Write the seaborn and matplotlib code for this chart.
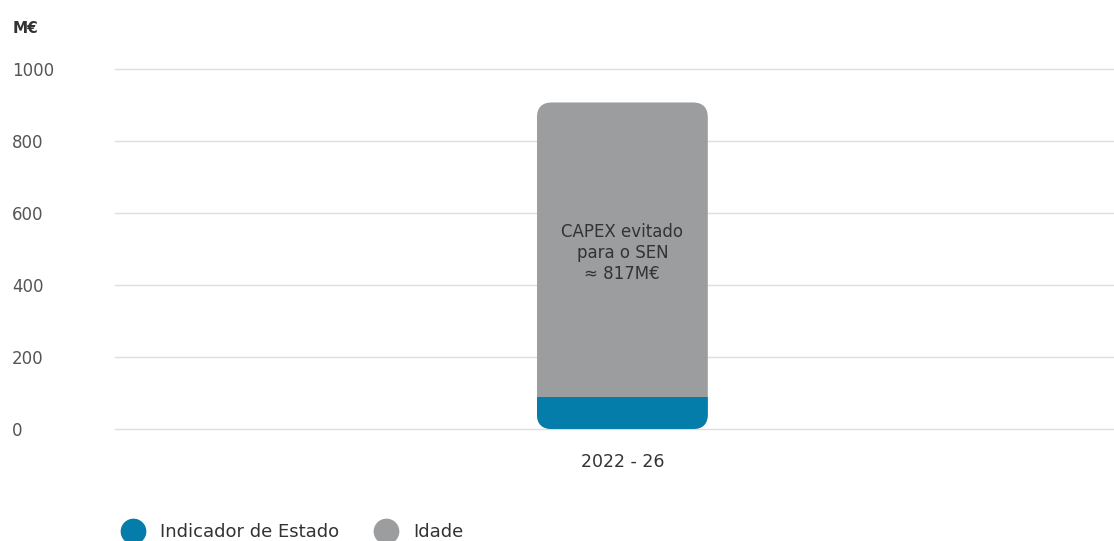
import matplotlib
matplotlib.use("Agg")
import matplotlib.pyplot as plt
from matplotlib.patches import FancyBboxPatch
from matplotlib.lines import Line2D
import pandas as pd
import seaborn as sns

# ── Data ─────────────────────────────────────────────────────────────────────
periods = ["2022 - 26"]
indicador_estado = [90]
idade = [817]
yticks = [0, 200, 400, 600, 800, 1000]

BLUE = "#047daa"
GREY = "#9c9d9f"
TEXT = "#333333"
TICK = "#555555"
GRID = "#dedede"

sns.set_theme(style="white")
plt.rcParams["font.family"] = ["DejaVu Sans"]

df = pd.DataFrame({
    "period": periods,
    "indicador": indicador_estado,
    "total": [a + b for a, b in zip(indicador_estado, idade)],
})

fig = plt.figure(figsize=(11.14, 5.41), dpi=100)
ax = fig.add_axes([0.103, 0.207, 0.897, 0.6655])

BAR_W = 0.171
sns.barplot(data=df, x="period", y="total", color=GREY, width=BAR_W,
            saturation=1, ax=ax, zorder=3)
sns.barplot(data=df, x="period", y="indicador", color=BLUE, width=BAR_W,
            saturation=1, ax=ax, zorder=3)

ax.set_xlim(-0.508, 0.492)
ax.set_ylim(0, 1000)

# rounded outline for the whole stack
aspect = (1000 / 360) / (1.0 / 999)
clip = FancyBboxPatch((-BAR_W / 2, 0), BAR_W, df["total"][0],
                      boxstyle="round,pad=0,rounding_size=0.015",
                      mutation_aspect=aspect, transform=ax.transData,
                      facecolor="none", edgecolor="none")
ax.add_patch(clip)
for p in ax.patches:
    if p is not clip:
        p.set_clip_path(clip)
        p.set_edgecolor("none")

# annotation inside the bar
ax.text(0, 489, "CAPEX evitado\npara o SEN\n≈ 817M€", ha="center", va="center",
        fontsize=12, color=TEXT, linespacing=1.2, zorder=5)

# grid + axes styling
ax.set_yticks(yticks)
ax.set_yticklabels([str(v) for v in yticks])
ax.yaxis.grid(True, color=GRID, linewidth=1, zorder=0)
for gl in ax.get_ygridlines():
    gl.set_clip_on(False)
ax.xaxis.grid(False)
for s in ax.spines.values():
    s.set_visible(False)
ax.tick_params(axis="y", length=0, pad=74, labelsize=12, labelcolor=TICK)
for lbl in ax.get_yticklabels():
    lbl.set_horizontalalignment("left")
ax.tick_params(axis="x", length=0, pad=17, labelsize=12.5, labelcolor=TEXT)
ax.set_xlabel("")
ax.set_ylabel("")

fig.text(0.011, 0.948, "M€", fontsize=11, fontweight="bold", color=TEXT,
         va="center", ha="left")

handles = [
    Line2D([0], [0], marker="o", linestyle="", markersize=17.5,
           markerfacecolor=BLUE, markeredgecolor=BLUE, label="Indicador de Estado"),
    Line2D([0], [0], marker="o", linestyle="", markersize=17.5,
           markerfacecolor=GREY, markeredgecolor=GREY, label="Idade"),
]
fig.legend(handles=handles, loc="center left", bbox_to_anchor=(0.1113, 0.0166),
           ncol=2, frameon=False, fontsize=13, labelcolor=TEXT,
           handlelength=1.0, handletextpad=1.0, columnspacing=2.1,
           borderpad=0, borderaxespad=0)

fig.savefig("out.png", dpi=100, facecolor="white")
